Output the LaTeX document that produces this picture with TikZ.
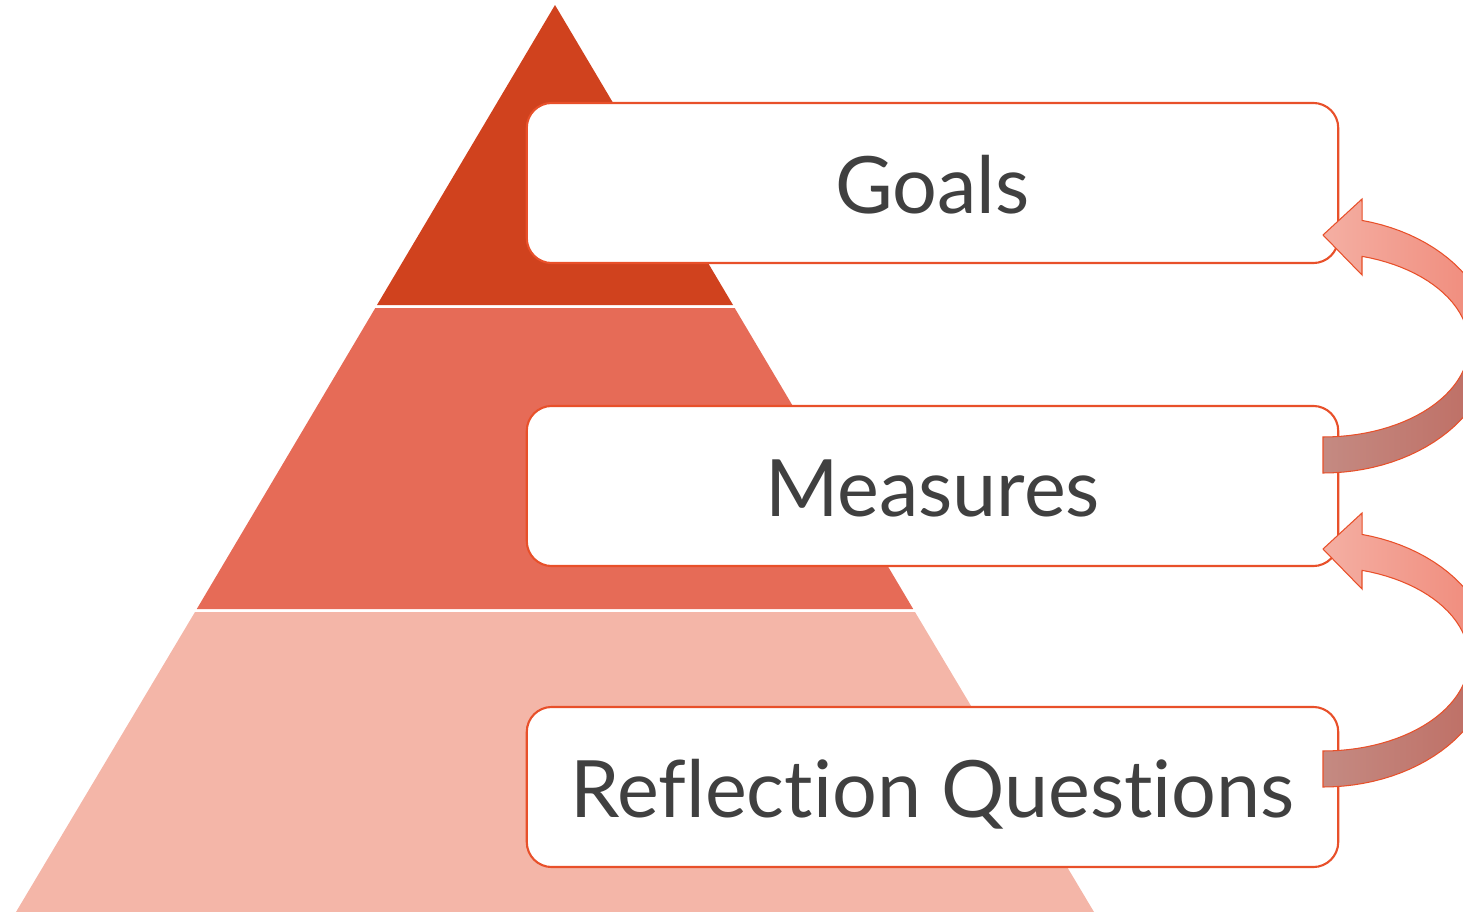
\documentclass[tikz,border=0pt]{standalone}
\usepackage{fontspec}
\setmainfont{Lato}[Ligatures=NoCommon]
\definecolor{pyrA}{RGB}{208,66,30}
\definecolor{pyrB}{RGB}{230,107,87}
\definecolor{pyrC}{RGB}{244,182,168}
\definecolor{edgeC}{RGB}{232,80,42}
\definecolor{txtC}{RGB}{64,64,64}
\definecolor{upL}{RGB}{244,175,163}
\definecolor{upR}{RGB}{240,136,120}
\definecolor{loL}{RGB}{196,138,130}
\definecolor{loR}{RGB}{190,108,98}
\tikzset{
  labelbox/.style={draw=edgeC, line width=0.6pt, fill=white, rounded corners=2.5mm,
    minimum width=8.11cm, minimum height=1.6cm, inner sep=0pt},
  labeltext/.style={inner sep=0pt, text height=16.1pt, text depth=0pt,
    font=\fontsize{22.5}{27}\selectfont, text=txtC, yshift=-0.25mm},
}
\newcommand{\arrowshape}[1]{%
  (1323,{#1+92}) -- (1323,{#1+128})
  -- plot[domain=90:-76.7, samples=50] ({1323+170*cos(\x)},{#1+128*sin(\x)})
  -- (1362,{#1-146}) -- (1323,{#1-110}) -- (1362,{#1-70})
  -- plot[domain=-74.5:90, samples=50] ({1323+146*cos(\x)},{#1+92*sin(\x)})
  -- cycle}
\newcommand{\curvedarrow}[1]{%
  \begin{scope}
    \clip (1300,{#1-200}) rectangle (1520,#1);
    \shade[left color=upL, right color=upR] \arrowshape{#1};
  \end{scope}
  \begin{scope}
    \clip (1300,#1) rectangle (1520,{#1+200});
    \shade[left color=loL, right color=loR] \arrowshape{#1};
  \end{scope}
  \draw[edgeC, line width=0.3pt, line join=miter] \arrowshape{#1};
}
\begin{document}
\begin{tikzpicture}[x=0.01cm, y=-0.01cm]
\useasboundingbox (0,0) rectangle (1463,912);
\clip (0,0) rectangle (1463,912);
% pyramid
\fill[pyrA] (555,5) -- (377,305) -- (733,305) -- cycle;
\fill[pyrB] (375.3,308) -- (734.7,308) -- (913.2,609) -- (196.8,609) -- cycle;
\fill[pyrC] (195,612) -- (915,612) -- (1094,912) -- (16,912) -- cycle;
% boxes
\node[labelbox] (goals) at (932.5,183) {};
\node[labelbox] (measures) at (932.5,486) {};
\node[labelbox] (reflect) at (932.5,787) {};
\node[labeltext] (goalsT) at (goals.center) {Goals};
\node[labeltext] (measuresT) at (measures.center) {Measures};
\node[labeltext] (reflectT) at (reflect.center) {Reflection Questions};
% arrows
\curvedarrow{345}
\curvedarrow{659}
\end{tikzpicture}
\end{document}
